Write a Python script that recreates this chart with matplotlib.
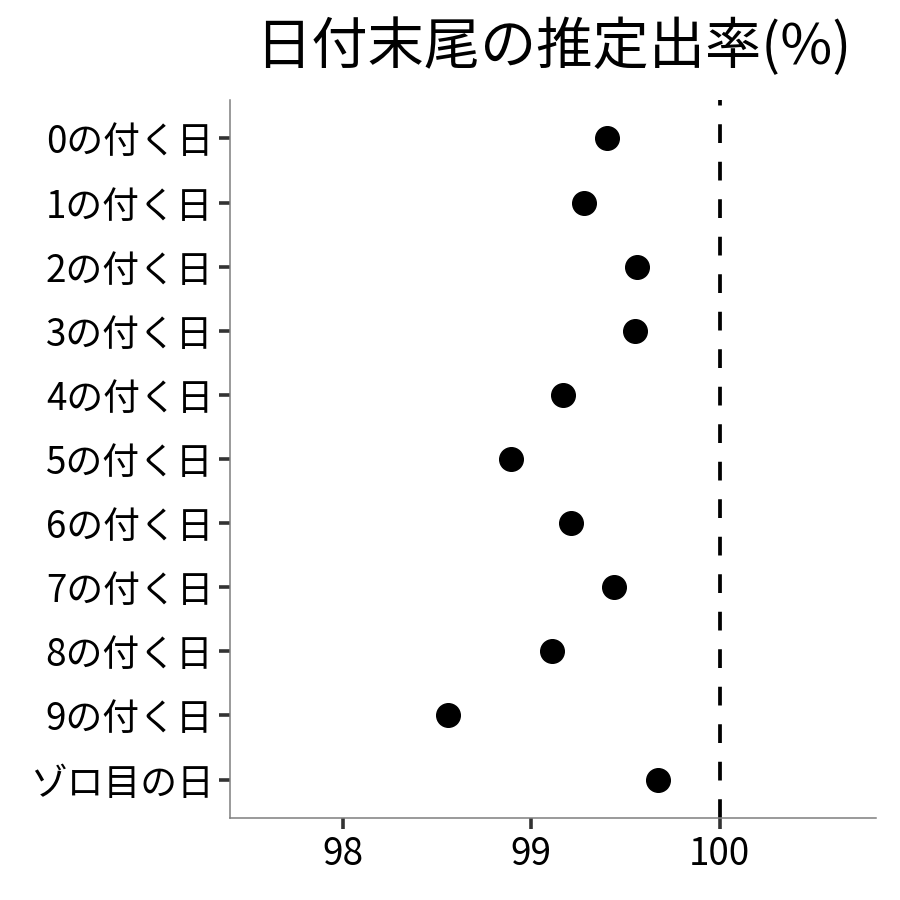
import matplotlib
matplotlib.use("Agg")
import matplotlib.pyplot as plt

plt.rcParams['font.family'] = ['Noto Sans CJK JP', 'DejaVu Sans']

categories = ["0の付く日", "1の付く日", "2の付く日", "3の付く日", "4の付く日",
              "5の付く日", "6の付く日", "7の付く日", "8の付く日", "9の付く日",
              "ゾロ目の日"]
values = [99.40, 99.28, 99.56, 99.55, 99.17, 98.89, 99.21, 99.44, 99.11, 98.56, 99.67]
xticks = [98, 99, 100]
ref_value = 100
title = "日付末尾の推定出率(%)"

fig = plt.figure(figsize=(9, 9), dpi=100)
ax = fig.add_axes([0.2556, 0.0911, 0.9733 - 0.2556, 0.8889 - 0.0911])

n = len(categories)
ypos = list(range(n))
ax.axvline(ref_value, color='black', linewidth=2.7, dashes=(5, 5), zorder=1)
ax.plot(values, ypos, 'o', color='black', markersize=17, zorder=3)

ax.set_yticks(ypos)
ax.set_yticklabels(categories)
ax.set_ylim(n - 1 + 0.6, -0.6)
ax.set_xticks(xticks)
ax.set_xticklabels([str(t) for t in xticks])
ax.set_xlim(97.40, 100.83)

for s in ['top', 'right']:
    ax.spines[s].set_visible(False)
for s in ['left', 'bottom']:
    ax.spines[s].set_color('#7f7f7f')
    ax.spines[s].set_linewidth(1.1)

ax.tick_params(axis='both', colors='#333333', width=2.6, length=8, labelsize=26.5,
               labelcolor='black', pad=4)

ax.set_title(title, fontsize=40.5, pad=26)

fig.savefig("out.png", dpi=100)
